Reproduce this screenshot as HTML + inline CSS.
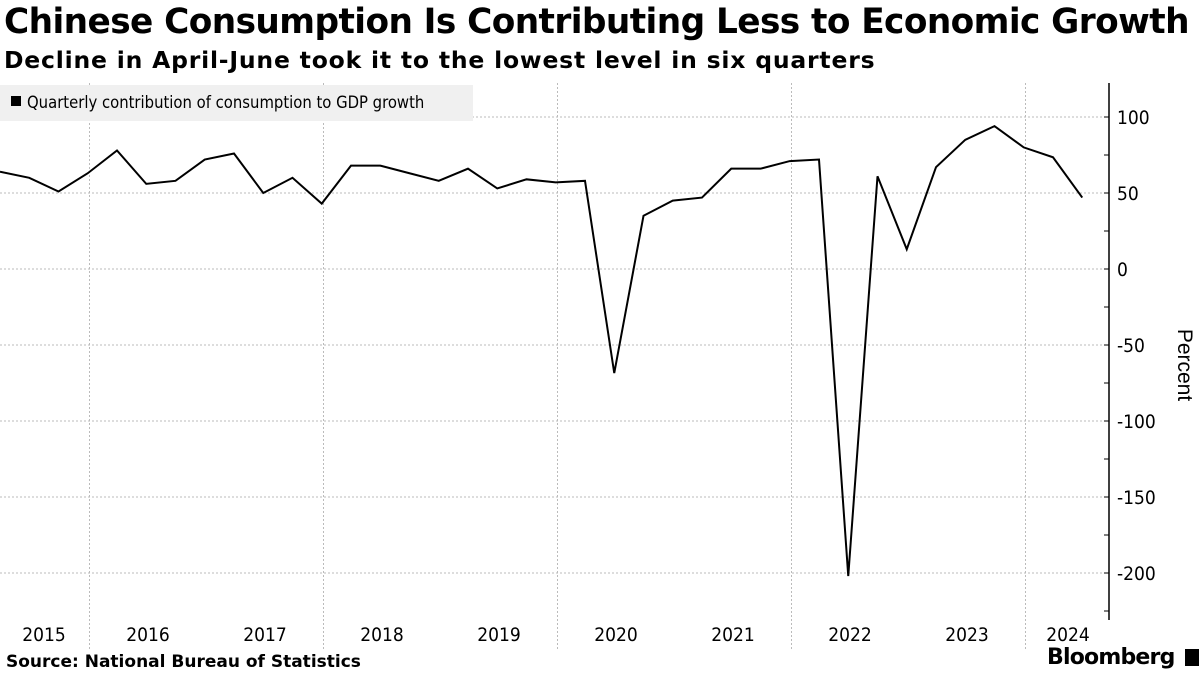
<!DOCTYPE html>
<html><head><meta charset="utf-8"><style>
body{margin:0;width:1200px;height:675px;background:#fff;overflow:hidden;font-family:"Liberation Sans","DejaVu Sans",sans-serif}
.t{position:absolute;left:4px;top:2px;font:bold 35px "DejaVu Sans","Liberation Sans",sans-serif;letter-spacing:-0.6px;color:#000;white-space:nowrap;transform-origin:0 0;transform:scaleX(0.981)}
.s{position:absolute;left:4px;top:46px;font:bold 23.5px "DejaVu Sans","Liberation Sans",sans-serif;letter-spacing:0.8px;color:#000;white-space:nowrap}
.src{position:absolute;left:6px;top:652px;font:bold 17px "DejaVu Sans",sans-serif;white-space:nowrap}
.bb{position:absolute;left:1047px;top:645px;font:bold 22px "DejaVu Sans",sans-serif;letter-spacing:-0.8px;white-space:nowrap}
</style></head><body>
<div class="t">Chinese Consumption Is Contributing Less to Economic Growth</div>
<div class="s">Decline in April-June took it to the lowest level in six quarters</div>
<svg id="c" width="1200" height="675" style="position:absolute;left:0;top:0"></svg>
<div class="src">Source: National Bureau of Statistics</div>
<div class="bb">Bloomberg <span style="display:inline-block;width:14px;height:17px;background:#000;vertical-align:-2px;margin-left:4px"></span></div>
<script>
const values=[64,60,51,63,78,56,58,72,76,50,60,43,68,68,63,58,66,53,59,57,58,-68.5,35,45,47,66,66,71,72,-202,61,13,67,85,94,80,73.5,47];
const yTicks=[100,50,0,-50,-100,-150,-200];
const years=["2015","2016","2017","2018","2019","2020","2021","2022","2023","2024"];
const svg=document.getElementById('c');const NS='http://www.w3.org/2000/svg';
function y(v){return 269-v*1.52;}
function x(i){return i*29.25;}
function yrX(k){return -27.5+k*117;}
function el(t,a,p){const e=document.createElementNS(NS,t);for(const k in a)e.setAttribute(k,a[k]);(p||svg).appendChild(e);return e;}
yTicks.forEach(v=>{const g=el('line',{x1:0,x2:1108,y1:y(v),y2:y(v),stroke:'#bbb','stroke-dasharray':'2,2','stroke-width':1});
});
for(let k=1;k<years.length;k+=2){const g=el('line',{x1:yrX(k),x2:yrX(k),y1:83,y2:650,stroke:'#bbb','stroke-dasharray':'2,2'});
}
const ax=el('line',{x1:1109,x2:1109,y1:83,y2:620,stroke:'#000','stroke-width':1.5});

for(let v=125;v>=-225;v-=25){const yy=y(v);if(yy<83||yy>620)continue;el('line',{x1:1104,x2:1109,y1:yy,y2:yy,stroke:'#000','stroke-width':1});}
yTicks.forEach(v=>{const t=el('text',{x:1117,y:y(v)+7,'font-size':19,fill:'#000','font-family':'DejaVu Sans Condensed, DejaVu Sans, sans-serif'});t.textContent=(v<0?'-':'')+Math.abs(v);
});
const yt=el('text',{x:1178,y:365,'font-size':21,'text-anchor':'middle',transform:'rotate(90 1178 365)'});yt.textContent='Percent';

years.forEach((s,k)=>{let cx=Math.min(Math.max(yrX(k)+58.5,44),1068);const t=el('text',{x:cx,y:641,'font-size':19,'text-anchor':'middle','font-family':'DejaVu Sans Condensed, DejaVu Sans, sans-serif'});t.textContent=s;
});
const lg=el('rect',{x:0,y:85,width:473,height:36,fill:'#f0f0f0'});
el('rect',{x:11,y:96,width:10,height:10,fill:'#000'});
const lt=el('text',{x:27,y:108,'font-size':16.5,'font-family':'DejaVu Sans Condensed, DejaVu Sans, sans-serif'});lt.textContent='Quarterly contribution of consumption to GDP growth';

const ln=el('polyline',{points:values.map((v,i)=>x(i)+','+y(v)).join(' '),fill:'none',stroke:'#000','stroke-width':2,'stroke-linejoin':'miter'});

</script>
</body></html>
